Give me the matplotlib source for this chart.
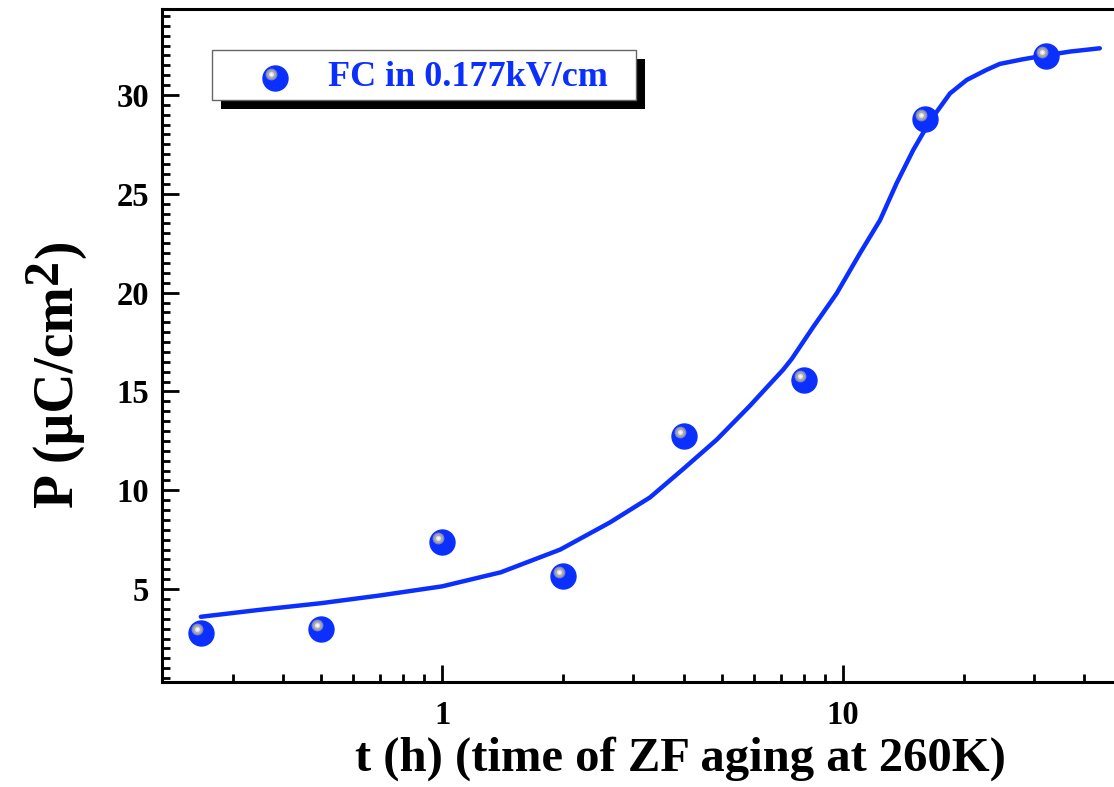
import matplotlib
matplotlib.use("Agg")
import matplotlib.pyplot as plt
import matplotlib.ticker as ticker
from matplotlib.patches import Rectangle
from matplotlib.transforms import offset_copy

# measured points
t_h = [0.25, 0.5, 1, 2, 4, 8, 16, 32]
P = [2.77, 2.98, 7.38, 5.66, 12.74, 15.58, 28.8, 31.97]

# fit curve
fit_t = [0.25, 0.35, 0.5, 0.7, 1.0, 1.4, 1.97, 2.62, 3.30, 3.99, 4.84, 5.86, 6.45,
         7.09, 7.45, 8.43, 9.64, 11.02, 12.37, 13.6, 14.97, 16.0, 17.13, 18.49,
         20.35, 22.8, 24.6, 28.0, 31.9, 37.0, 43.7]
fit_P = [3.6, 3.95, 4.29, 4.68, 5.14, 5.85, 7.0, 8.37, 9.64, 11.07, 12.56, 14.28, 15.2,
         16.1, 16.65, 18.27, 19.96, 21.99, 23.67, 25.53, 27.22, 28.23, 29.15, 30.08,
         30.76, 31.27, 31.57, 31.8, 32.0, 32.2, 32.36]

legend_label = "FC in 0.177kV/cm"
blue = "#0b2fff"

plt.rcParams["font.family"] = ["Liberation Serif", "DejaVu Serif"]
plt.rcParams["font.weight"] = "bold"

W, H = 1114, 787
fig = plt.figure(figsize=(W / 100, H / 100), dpi=100)
ax = fig.add_axes([0.1454, 0.1334, 0.8629, 0.8552])

ax.plot(fit_t, fit_P, color=blue, lw=3.2, solid_capstyle="round", solid_joinstyle="round", zorder=2)


def balls(x, y, trans):
    # blue sphere with grey/white highlight up-left
    hl = offset_copy(trans, fig=fig, x=-4, y=4, units="dots")
    ax.plot(x, y, "o", ms=18, color=blue, mec=blue, transform=trans, zorder=8, clip_on=False)
    ax.plot(x, y, "o", ms=8.5, color="#7d86c9", mec="none", transform=hl, zorder=9, clip_on=False)
    ax.plot(x, y, "o", ms=6.5, color="#a9a9a9", mec="none", transform=hl, zorder=9, clip_on=False)
    ax.plot(x, y, "o", ms=3.8, color="#dcdcdc", mec="none", transform=hl, zorder=9, clip_on=False)
    ax.plot(x, y, "o", ms=1.8, color="white", mec="none", transform=hl, zorder=9, clip_on=False)


balls(t_h, P, ax.transData)

ax.set_xscale("log")
ax.set_xlim(0.2, 50)
ax.set_ylim(0.3, 34.35)

ax.xaxis.set_major_locator(ticker.FixedLocator([1, 10]))
ax.xaxis.set_major_formatter(ticker.FixedFormatter(["1", "10"]))
ax.xaxis.set_minor_locator(ticker.LogLocator(base=10, subs=range(2, 10)))
ax.xaxis.set_minor_formatter(ticker.NullFormatter())
ax.yaxis.set_major_locator(ticker.FixedLocator([5, 10, 15, 20, 25, 30]))
ax.yaxis.set_minor_locator(ticker.MultipleLocator(0.5))

ax.tick_params(which="both", direction="in", width=2, labelsize=23.5)
ax.tick_params(which="major", length=12)
ax.tick_params(which="minor", length=6)
ax.tick_params(axis="x", which="major", pad=13)
ax.tick_params(axis="y", which="major", pad=9)

for s in ["left", "bottom", "top"]:
    ax.spines[s].set_linewidth(2.2)
ax.spines["right"].set_visible(False)

ax.set_xlabel("t (h) (time of ZF aging at 260K)", fontsize=35, fontweight="bold")
ax.xaxis.set_label_coords(0.539, -0.08)

# legend box with hard black shadow
x0, x1, y0, y1 = 0.052, 0.493, 0.865, 0.939
ax.add_patch(Rectangle((x0 + 0.0094, y0 - 0.0134), x1 - x0, y1 - y0, transform=ax.transAxes,
                       facecolor="black", edgecolor="none", zorder=6, clip_on=False))
ax.add_patch(Rectangle((x0, y0), x1 - x0, y1 - y0, transform=ax.transAxes,
                       facecolor="white", edgecolor="#666666", lw=1, zorder=7, clip_on=False))
balls([0.118], [0.8975], ax.transAxes)
ax.text(0.1727, 0.8975, legend_label, transform=ax.transAxes, color=blue, fontsize=26,
        fontweight="bold", va="center", ha="left", zorder=10)

# y label with a full-size raised "2"
r = fig.canvas.get_renderer()
kw = dict(rotation=90, rotation_mode="anchor", ha="left", va="baseline", fontweight="bold")
t1 = fig.text(73 / W, (H - 508) / H, "P (µC/cm", fontsize=40, **kw)
b1 = t1.get_window_extent(r)
t2 = fig.text(57 / W, (b1.y1 + 2) / H, "2", fontsize=36, **kw)
b2 = t2.get_window_extent(r)
fig.text(73 / W, (b2.y1 + 1) / H, ")", fontsize=40, **kw)

fig.savefig("out.png", dpi=100)
